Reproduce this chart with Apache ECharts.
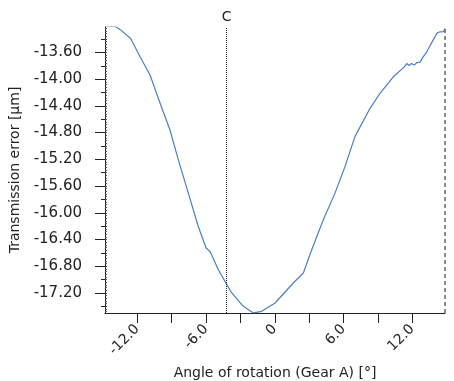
<!DOCTYPE html>
<html>
<head>
<meta charset="utf-8">
<script src="https://cdn.jsdelivr.net/npm/echarts@6/dist/echarts.min.js"></script>
<style>html,body{margin:0;padding:0;background:#fff}#c{width:454px;height:381px}</style>
</head>
<body>
<div id="c"></div>
<script>
// Angle of rotation (Gear A) [°]
var angle = [-14.82, -13.95, -13.51, -12.58, -11.76, -10.89, -10.02, -9.15, -8.42, -7.55, -6.68, -6.00, -5.65, -4.93, -4.35, -3.76, -2.75, -1.88, -1.14, 0.02, 1.61, 2.49, 3.22, 4.23, 5.25, 6.12, 6.99, 8.31, 9.18, 10.34, 11.28, 11.51, 11.71, 11.93, 12.15, 12.41, 12.67, 12.93, 13.26, 13.81, 14.16, 14.42, 14.59, 14.72, 14.85];
// Transmission error [µm]
var error = [-13.207, -13.21, -13.256, -13.391, -13.666, -13.939, -14.357, -14.761, -15.209, -15.706, -16.205, -16.528, -16.579, -16.852, -17.027, -17.200, -17.400, -17.499, -17.475, -17.350, -17.051, -16.901, -16.553, -16.105, -15.706, -15.309, -14.861, -14.437, -14.212, -13.965, -13.820, -13.767, -13.797, -13.767, -13.790, -13.752, -13.745, -13.670, -13.591, -13.416, -13.312, -13.292, -13.267, -13.289, -13.241];
var xLabels = [-12, -6, 0, 6, 12];
var xTicks = [-12, -9, -6, -3, 0, 3, 6, 9, 12];
var yLabels = [-17.2, -16.8, -16.4, -16.0, -15.6, -15.2, -14.8, -14.4, -14.0, -13.6];
var yMinorTicks = [-17.4, -17.0, -16.6, -16.2, -15.8, -15.4, -15.0, -14.6, -14.2, -13.8, -13.4];
var markerC = -4.2;
var markerEnd = 14.85;

var yFine = [];
for (var i = 0; i <= 107; i++) { yFine.push(-17.48 + i * 0.04); }

var font = 'DejaVu Sans';
var chart = echarts.init(document.getElementById('c'), null, {renderer: 'canvas'});
chart.setOption({
  animation: false,
  backgroundColor: '#ffffff',
  grid: {left: 105, top: 27, width: 340, height: 286, containLabel: false, outerBoundsMode: 'none'},
  xAxis: {
    type: 'value', min: -14.82, max: 14.85,
    name: 'Angle of rotation (Gear A) [°]', nameLocation: 'middle', nameGap: 53,
    nameTextStyle: {fontFamily: font, fontSize: 14, color: '#222'},
    axisLine: {show: true, onZero: false, lineStyle: {color: '#222', width: 1}},
    axisTick: {show: true, customValues: xTicks, length: 10, lineStyle: {color: '#222'}},
    axisLabel: {customValues: xLabels, rotate: 45, margin: 14, fontFamily: font, fontSize: 14, color: '#222',
      formatter: function (v) { return v === 0 ? '0' : v.toFixed(1); }},
    splitLine: {show: false}
  },
  yAxis: [{
    type: 'value', min: -17.50, max: -13.22, position: 'left', offset: 0,
    name: 'Transmission error [µm]', nameLocation: 'middle', nameGap: 71,
    nameTextStyle: {fontFamily: font, fontSize: 14, color: '#222'},
    axisLine: {show: true, onZero: false, lineStyle: {color: '#222', width: 1}},
    axisTick: {show: true, customValues: yLabels, length: 10, lineStyle: {color: '#222'}},
    axisLabel: {customValues: yLabels, margin: 23, fontFamily: font, fontSize: 15, color: '#222',
      formatter: function (v) { return v.toFixed(2); }},
    splitLine: {show: false}
  }, {
    type: 'value', min: -17.50, max: -13.22, position: 'left', offset: 0,
    axisLine: {show: false, onZero: false},
    axisTick: {show: true, customValues: yMinorTicks, length: 4, lineStyle: {color: '#222'}},
    axisLabel: {show: false},
    splitLine: {show: false}
  }, {
    type: 'value', min: -17.50, max: -13.22, position: 'left', offset: 0,
    axisLine: {show: false, onZero: false},
    axisTick: {show: true, inside: true, customValues: yFine, length: 2, lineStyle: {color: '#555'}},
    axisLabel: {show: false},
    splitLine: {show: false}
  }],
  series: [{
    type: 'line',
    data: angle.map(function (a, i) { return [a, error[i]]; }),
    showSymbol: false,
    lineStyle: {color: '#4a7fc1', width: 1.2},
    markLine: {
      silent: true, symbol: 'none',
      data: [
        {xAxis: markerC, lineStyle: {type: 'dotted', color: '#222', width: 1},
         label: {show: true, position: 'end', formatter: 'C', fontFamily: font, fontSize: 14, color: '#222', distance: 3}},
        {xAxis: markerEnd, lineStyle: {type: [4, 3], color: '#666', width: 1.5}, label: {show: false}}
      ]
    }
  }]
});
</script>
</body>
</html>
